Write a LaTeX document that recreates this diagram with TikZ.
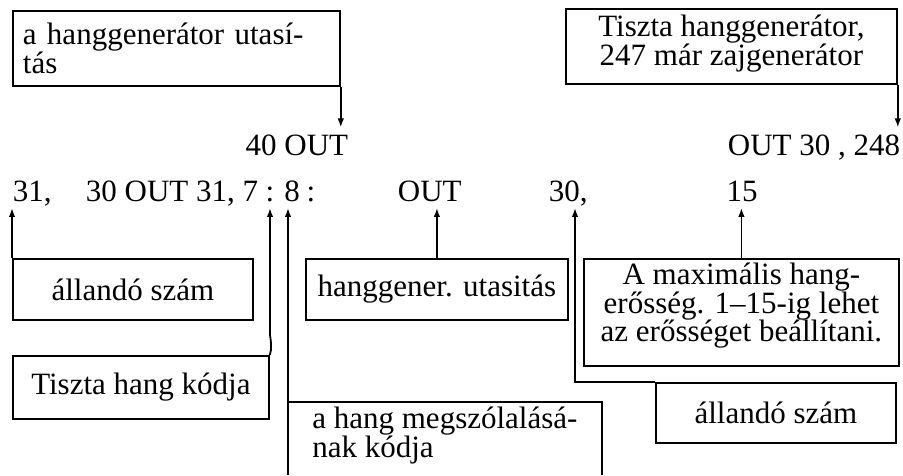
\documentclass[tikz,border=0pt]{standalone}
\usepackage{fontspec}
\usetikzlibrary{arrows.meta}
\setmainfont{Liberation Serif}
\newcommand\bigtxt{\fontsize{31}{28.5}\selectfont}

\begin{document}
\begin{tikzpicture}[x=1pt, y=-1pt, line width=1.8pt,
    box/.style={draw, anchor=north west, font=\bigtxt, align=center, inner sep=0pt},
    code/.style={font=\bigtxt, inner xsep=0pt, inner ysep=6pt, text depth=0pt},
    tip/.style={-{Latex[length=9pt,width=6.5pt]}}]

    % page
    \useasboundingbox (0,0) rectangle (903,475);
    \coordinate (pagebot) at (0,475);

    % upper boxes
    \node [box, inner xsep=10pt, text width=307pt, align=left, minimum height=75pt] (utasitas) at (12,10) {a hanggenerátor utasí-\\tás};
    \node [box, minimum width=331pt, minimum height=75pt] (tiszta) at (565,8) {Tiszta hanggenerátor,\\247 már zajgenerátor\rule[-12pt]{0pt}{12pt}};

    % program lines
    \node [code, anchor=base east] (out40) at (349,155) {40 OUT};
    \node [code, anchor=base east] (out248) at (901,155) {OUT 30 , 248};
    \node [code, anchor=base west] (n31) at (12,201) {31,};
    \node [code, anchor=base east] (seq) at (259,201) {30 OUT 31, 7};
    \node [code, anchor=base] (colA) at (270,201) {:};
    \node [code, anchor=base] (eight) at (292,201) {8};
    \node [code, anchor=base] (colB) at (311,201) {:};
    \node [code, anchor=base west] (outb) at (397,201) {OUT};
    \node [code, anchor=base west] (thirty) at (548,201) {30,};
    \node [code, anchor=base] (fifteen) at (742,201) {15};

    % lower boxes
    \node [box, minimum width=240pt, minimum height=61pt] (allando) at (12,258) {állandó szám};
    \node [box, minimum width=262pt, minimum height=61pt] (utasitas2) at (305,258) {hanggener. utasitás};
    \node [box, minimum width=315pt, minimum height=107pt] (maxhang) at (583,258) {A maximális hang-\\erősség. 1--15-ig lehet\\az erősséget beállítani.\rule[-20pt]{0pt}{20pt}};
    \node [box, minimum width=256pt, minimum height=63pt] (kod) at (12,355) {Tiszta hang kódja};
    \node [box, draw=none, align=left, minimum width=312pt, minimum height=65pt] (megszolal) at (288,402) {a hang megszólalásá-\\nak kódja};
    \node [box, minimum width=240pt, minimum height=60pt] (allando2) at (655,382) {állandó szám};

    % open box at the bottom
    \draw (megszolal.north west) -- (megszolal.north east) -- (megszolal.north east |- pagebot);

    % arrows down
    \draw [tip] (utasitas.south east) -- (utasitas.south east |- out40.north);
    \draw [tip] (tiszta.south east) -- (tiszta.south east |- out248.north);

    % arrows up
    \draw [tip] (allando.north west) -- (allando.north west |- n31.south);
    \coordinate (kink) at (270,335);
    \draw [tip] (kod.north east) .. controls (272,349) and (271,341) .. (kink) -- (kink |- colA.south);
    \draw [tip] (megszolal.north west |- pagebot) -- (megszolal.north west |- eight.south);
    \draw [tip] (utasitas2.north) -- (utasitas2.north |- outb.south);
    \coordinate (bend) at (575,382);
    \draw [tip] (allando2.north west) -- (bend) -- (bend |- thirty.south);
    \draw [tip] (maxhang.north) -- (maxhang.north |- fifteen.south);

\end{tikzpicture}
\end{document}
